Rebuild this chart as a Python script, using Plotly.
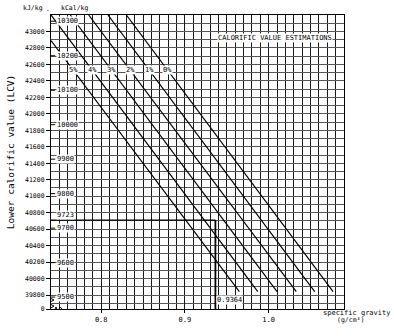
import plotly.graph_objects as go

# ---- data ----
pct_labels = ["5%", "4%", "3%", "2%", "1%", "0%"]
sg_start = [0.740, 0.740, 0.763, 0.785, 0.808, 0.830]
lcv_start = [42890, 43200, 43200, 43200, 43200, 43200]
sg_end = [0.965, 0.987, 1.010, 1.033, 1.055, 1.077]
lcv_end = [39840, 39840, 39840, 39840, 39840, 39840]

kj_ticks = [39800, 40000, 40200, 40400, 40600, 40800, 41000, 41200, 41400,
            41600, 41800, 42000, 42200, 42400, 42600, 42800, 43000]
kcal_ticks = [10300, 10200, 10100, 10000, 9900, 9800, 9700, 9600, 9500]
sg_ticks = [0.8, 0.9, 1.0]
sg_ticktext = ["0.8", "0.9", "1.0"]

example_sg = 0.9364
example_kcal = 9723
KJ_PER_KCAL = 4.1868

x_range = [0.74, 1.09]
y_range = [39630, 43200]
label_row_lcv = 42530

MONO = "DejaVu Sans Mono"
W, H = 394, 336
ML, MR, MT, MB = 51, 50, 15, 23
PW, PH = W - ML - MR, H - MT - MB


def px_x(x):
    return (x - ML) / PW


def px_y(y):
    return (H - MB - y) / PH


def ptext(x, y, text, size, angle=0, bg=None):
    d = dict(x=px_x(x), y=px_y(y), xref="paper", yref="paper", text=text,
             xanchor="center", yanchor="middle", textangle=angle, showarrow=False,
             font=dict(family=MONO, size=size, color="#000"))
    if bg:
        d.update(bgcolor=bg, borderpad=0)
    return d


fig = go.Figure()

# diagonal percentage lines
for i, lab in enumerate(pct_labels):
    fig.add_trace(go.Scatter(
        x=[sg_start[i], sg_end[i]], y=[lcv_start[i], lcv_end[i]],
        mode="lines", line=dict(color="#000", width=1.2),
        hoverinfo="skip", showlegend=False))

annotations = []
shapes = []

# percentage labels on the lines
for i, lab in enumerate(pct_labels):
    t = (label_row_lcv - lcv_start[i]) / (lcv_end[i] - lcv_start[i])
    xs = sg_start[i] + t * (sg_end[i] - sg_start[i])
    annotations.append(dict(x=xs, y=label_row_lcv, xref="x", yref="y", text=lab,
                            xanchor="center", yanchor="middle",
                            showarrow=False, bgcolor="white", borderpad=0,
                            font=dict(family=MONO, size=7, color="#000")))

# kcal/kg inner scale
for k in kcal_ticks:
    v = k * KJ_PER_KCAL
    shapes.append(dict(type="line", xref="x", yref="y", x0=x_range[0], x1=x_range[0] + 0.005,
                       y0=v, y1=v, line=dict(color="#000", width=1)))
    annotations.append(dict(x=x_range[0], y=v, xref="x", yref="y", text=str(k),
                            xanchor="left", yanchor="middle", xshift=5, showarrow=False,
                            bgcolor="white", borderpad=0,
                            font=dict(family=MONO, size=7, color="#000")))

# example reading 9723 kcal/kg at SG 0.9364
ev = example_kcal * KJ_PER_KCAL
shapes.append(dict(type="line", xref="x", yref="y", x0=x_range[0], x1=example_sg,
                   y0=ev, y1=ev, line=dict(color="#000", width=1.3)))
shapes.append(dict(type="line", xref="x", yref="y", x0=example_sg, x1=example_sg,
                   y0=ev, y1=y_range[0], line=dict(color="#000", width=1.8)))
annotations.append(dict(x=x_range[0], y=ev, xref="x", yref="y", text=str(example_kcal),
                        xanchor="left", yanchor="bottom", xshift=5, showarrow=False,
                        bgcolor="white", borderpad=0,
                        font=dict(family=MONO, size=7, color="#000")))
annotations.append(dict(x=example_sg, y=39738, xref="x", yref="y", text=str(example_sg),
                        xanchor="left", yanchor="middle", xshift=1, showarrow=False,
                        bgcolor="white", borderpad=0,
                        font=dict(family=MONO, size=7, color="#000")))

# axis break zigzags near origin
shapes.append(dict(type="path", xref="x", yref="y", xsizemode="pixel", ysizemode="pixel",
                   xanchor=x_range[0], yanchor=y_range[0],
                   path="M 0,1 L 3,3 L -3,6 L 3,9 L -3,12 L 0,14",
                   line=dict(color="#000", width=1)))
shapes.append(dict(type="path", xref="x", yref="y", xsizemode="pixel", ysizemode="pixel",
                   xanchor=x_range[0], yanchor=y_range[0],
                   path="M 1,0 L 3,-3 L 5,2 L 7,-3 L 9,2 L 11,0",
                   line=dict(color="#000", width=1)))

# texts
annotations += [
    ptext(10, 154, "Lower calorific value (LCV)", 9.5, angle=-90),
    ptext(33, 8, "kJ/kg", 6.5),
    ptext(48, 9, "-", 6),
    ptext(74, 8, "kCal/kg", 6.5),
    ptext(275, 38, "CALORIFIC VALUE ESTIMATIONS", 7, bg="white"),
    ptext(356, 317, "specific gravity", 7),
    ptext(350, 324, "(g/cm³)", 6.5),
]

fig.update_layout(
    width=W, height=H, margin=dict(l=ML, r=MR, t=MT, b=MB),
    paper_bgcolor="white", plot_bgcolor="white", showlegend=False,
    annotations=annotations, shapes=shapes,
    xaxis=dict(range=x_range, tickvals=sg_ticks, ticktext=sg_ticktext,
               ticks="outside", ticklen=3, tickcolor="#000",
               showgrid=True, gridcolor="#1a1a1a", gridwidth=1,
               minor=dict(tick0=0.74, dtick=0.01, showgrid=True, gridcolor="#1a1a1a",
                          gridwidth=1, ticks=""),
               showline=True, linecolor="#000", linewidth=1.2, mirror=True,
               zeroline=False, tickfont=dict(family=MONO, size=7, color="#000")),
    yaxis=dict(range=y_range, tickvals=[y_range[0]] + kj_ticks,
               ticktext=["0"] + [str(v) for v in kj_ticks],
               ticks="outside", ticklen=4, tickcolor="#000",
               showgrid=True, gridcolor="#555", gridwidth=0.9,
               minor=dict(tick0=39600, dtick=100, showgrid=True, gridcolor="#555",
                          gridwidth=0.9, ticks=""),
               showline=True, linecolor="#000", linewidth=1.2, mirror=True,
               zeroline=False, tickfont=dict(family=MONO, size=6.5, color="#000")),
)

fig.write_html("out.html")
